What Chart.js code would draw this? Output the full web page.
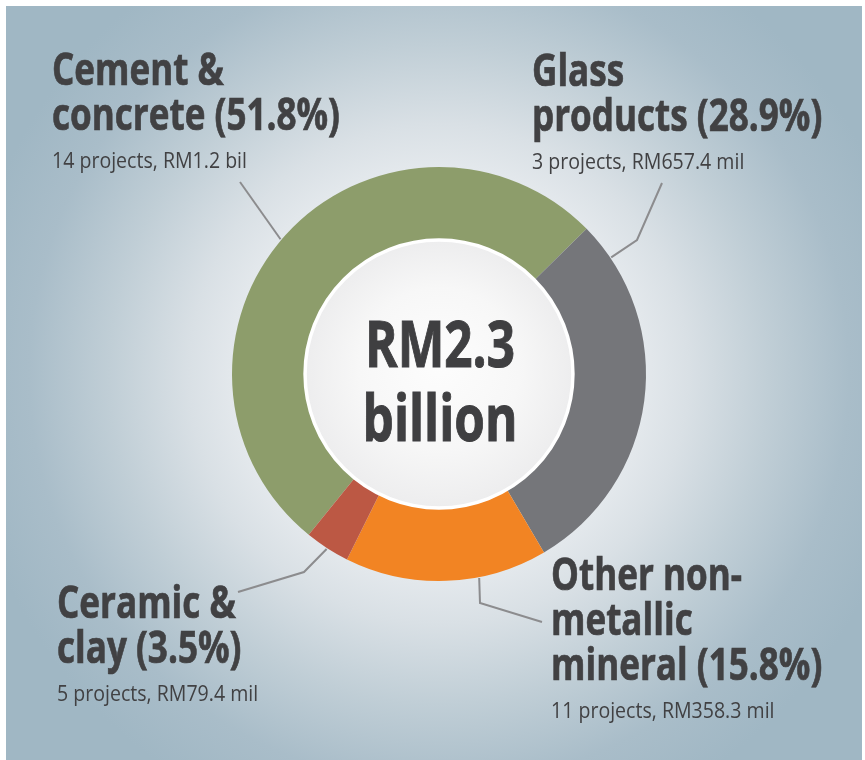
<!DOCTYPE html>
<html>
<head>
<meta charset="utf-8">
<script src="https://cdn.jsdelivr.net/npm/chart.js@4.4.1/dist/chart.umd.min.js"></script>
<style>
  html, body { margin: 0; padding: 0; background: #ffffff; }
  #wrap { position: relative; width: 865px; height: 760px; overflow: hidden; }
  #panel {
    position: absolute; left: 6px; top: 6px; width: 856px; height: 754px;
    background: radial-gradient(circle at 433px 368px, #f4f5f7 0px, #eceff2 170px, #d9e0e5 250px, #c0ced6 330px, #a9bdc9 410px, #a0b7c4 480px);
  }
  #c { position: absolute; left: 0; top: 0; }
  .lbl { position: absolute; color: #414143; font-family: "Open Sans", "Noto Sans", sans-serif; white-space: nowrap; }
  .ttl { font-weight: 700; font-size: 44px; line-height: 45px; transform-origin: left top; -webkit-text-stroke: 0.7px #414143; }
  .sub { font-weight: 400; font-size: 21px; line-height: 24px; transform-origin: left top; margin-top: 12px; }
  #center { position: absolute; left: 290px; top: 306px; width: 300px; text-align: center; color: #3f3f41;
    font-family: "Open Sans", "Noto Sans", sans-serif; font-weight: 700; font-size: 64px; line-height: 74px;
    transform-origin: 150px 50%; -webkit-text-stroke: 1px #3f3f41; }
</style>
</head>
<body>
<div id="wrap">
  <div id="panel"></div>
  <canvas id="c" width="865" height="760"></canvas>
  <div id="labels"></div>
  <div id="center"></div>
</div>
<script>
// ---- data ----
const categories = ['Cement & concrete', 'Glass products', 'Other non-metallic mineral', 'Ceramic & clay'];
const shares = [51.8, 28.9, 15.8, 3.5];
const projects = [14, 3, 11, 5];
const amounts = ['RM1.2 bil', 'RM657.4 mil', 'RM358.3 mil', 'RM79.4 mil'];
const titleBreaks = [['Cement &', 'concrete'], ['Glass', 'products'], ['Other non-', 'metallic', 'mineral'], ['Ceramic &', 'clay']];
const totalLabel = ['RM2.3', 'billion'];
const colors = ['#8d9d6b', '#75767a', '#f28423', '#bc5844'];

// ---- layout (not data) ----
const labelPos = [{left: 52, top: 46}, {left: 532, top: 47}, {left: 551, top: 551}, {left: 57, top: 579}];
const leaders = [
  {frac: 0.49, pts: [[240, 182]]},
  {frac: 0.10, pts: [[637, 240], [662, 183]]},
  {frac: 0.34, pts: [[480, 603], [542, 622]]},
  {frac: 0.50, pts: [[304, 572], [238, 592]]}
];

// ---- text scaling (condensed look) ----
const mctx = document.createElement('canvas').getContext('2d');
function textW(font, s) { mctx.font = font; return mctx.measureText(s).width; }
const FONT = '"Open Sans", "Noto Sans", sans-serif';
const titleScale = 288 / textW('700 44px ' + FONT, 'concrete (51.8%)');
const subScale = 195 / textW('400 21px ' + FONT, '14 projects, RM1.2 bil');
const centerScale = 150 / textW('700 64px ' + FONT, 'RM2.3');

const labelsDiv = document.getElementById('labels');
categories.forEach((cat, i) => {
  const box = document.createElement('div');
  box.className = 'lbl';
  box.style.left = labelPos[i].left + 'px';
  box.style.top = labelPos[i].top + 'px';
  const lines = titleBreaks[i].slice();
  lines[lines.length - 1] += ' (' + shares[i].toFixed(1) + '%)';
  const t = document.createElement('div');
  t.className = 'ttl';
  t.style.transform = 'scaleX(' + titleScale + ')';
  t.innerHTML = lines.map(l => l.replace(/&/g, '&amp;')).join('<br>');
  const s = document.createElement('div');
  s.className = 'sub';
  s.style.transform = 'scaleX(' + subScale + ')';
  s.textContent = projects[i] + ' projects, ' + amounts[i];
  box.appendChild(t); box.appendChild(s);
  labelsDiv.appendChild(box);
});
const centerDiv = document.getElementById('center');
centerDiv.innerHTML = totalLabel.join('<br>');
centerDiv.style.transform = 'scaleX(' + centerScale + ')';

// ---- plugins ----
const innerCircle = {
  id: 'innerCircle',
  afterDatasetsDraw(chart) {
    const arc = chart.getDatasetMeta(0).data[0];
    const ctx = chart.ctx;
    const r = arc.innerRadius;
    ctx.save();
    const g = ctx.createRadialGradient(arc.x, arc.y - 15, 0, arc.x, arc.y, r);
    g.addColorStop(0, '#fdfdfd');
    g.addColorStop(0.6, '#f7f7f7');
    g.addColorStop(1, '#ededee');
    ctx.beginPath();
    ctx.arc(arc.x, arc.y, r, 0, Math.PI * 2);
    ctx.fillStyle = g;
    ctx.fill();
    ctx.lineWidth = 3.5;
    ctx.strokeStyle = '#ffffff';
    ctx.stroke();
    ctx.restore();
  }
};
const leaderLines = {
  id: 'leaderLines',
  afterDraw(chart) {
    const ctx = chart.ctx;
    const els = chart.getDatasetMeta(0).data;
    ctx.save();
    ctx.strokeStyle = '#8c8c8e';
    ctx.lineWidth = 2;
    ctx.lineJoin = 'miter';
    els.forEach((el, i) => {
      const L = leaders[i];
      const a = el.startAngle + L.frac * (el.endAngle - el.startAngle);
      ctx.beginPath();
      ctx.moveTo(el.x + Math.cos(a) * (el.outerRadius + 1), el.y + Math.sin(a) * (el.outerRadius + 1));
      L.pts.forEach(p => ctx.lineTo(p[0], p[1]));
      ctx.stroke();
    });
    ctx.restore();
  }
};

new Chart(document.getElementById('c'), {
  type: 'doughnut',
  data: {
    labels: categories,
    datasets: [{ data: shares, backgroundColor: colors, borderWidth: 0, hoverOffset: 0 }]
  },
  options: {
    responsive: false,
    animation: false,
    events: [],
    rotation: -141,
    cutout: '64.7%',
    layout: { padding: { left: 232, right: 219, top: 167, bottom: 179 } },
    plugins: { legend: { display: false }, tooltip: { enabled: false } }
  },
  plugins: [innerCircle, leaderLines]
});
</script>
</body>
</html>
